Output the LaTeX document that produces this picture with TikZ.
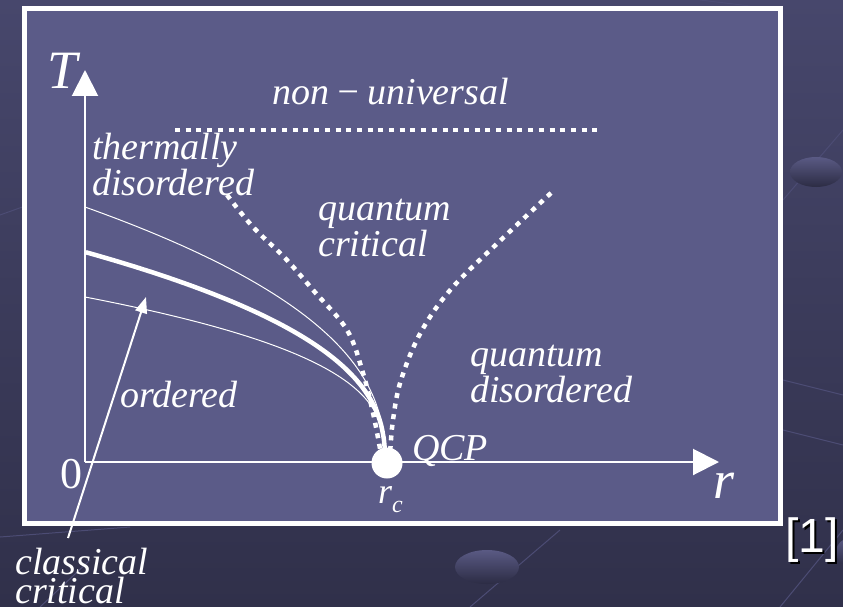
\documentclass[tikz,border=0pt]{standalone}
\usepackage{fontspec}
\setmainfont{Liberation Serif}
\newfontfamily\refsans{Liberation Sans}
\usetikzlibrary{arrows.meta}
\definecolor{bgtop}{HTML}{47476C}
\definecolor{bgbot}{HTML}{30304A}
\definecolor{panel}{HTML}{5B5B88}
\definecolor{decoline}{HTML}{4C4C74}
\definecolor{blobtop}{HTML}{5A5A84}
\definecolor{blobbot}{HTML}{2C2C44}
\begin{document}
\begin{tikzpicture}[x=1pt,y=-1pt,
  lbl/.style={text=white, font=\fontsize{38}{29}\selectfont\itshape, inner sep=0pt, align=left, anchor=base west},
  biglbl/.style={text=white, font=\fontsize{54}{54}\selectfont\itshape, inner sep=0pt, anchor=base west},
  thincurve/.style={white, line width=1pt},
  thickcurve/.style={white, line width=4.5pt},
  dotcurve/.style={white, line width=4.5pt, dash pattern=on 5pt off 5.7pt},
  axisline/.style={white, line width=2pt, -{Triangle[length=26pt,width=26pt]}},
  pointer/.style={white, line width=2pt, -{Triangle[length=16pt,width=12pt]}},
  deco/.style={decoline, line width=1pt},
]
% background slide
\useasboundingbox (0,0) rectangle (843,607);
\shade[top color=bgtop, bottom color=bgbot] (0,0) rectangle (843,607);
\draw[deco] (0,215) -- (70,190);
\draw[deco] (0,537) -- (130,527);
\draw[deco] (40,607) -- (90,560);
\draw[deco] (843,130) -- (783,200);
\draw[deco] (783,380) -- (843,395);
\draw[deco] (783,430) -- (843,445);
\draw[deco] (843,530) -- (780,607);
\draw[deco] (470,607) -- (560,530);
\draw[deco] (700,0) -- (750,6);
\shade[top color=blobtop, bottom color=blobbot] (816,172) ellipse [x radius=26, y radius=15];
\shade[top color=blobtop, bottom color=blobbot] (487,567) ellipse [x radius=32, y radius=17];
\shade[top color=blobtop, bottom color=blobbot] (850,552) ellipse [x radius=14, y radius=14];
% panel
\draw[white, line width=5pt, fill=panel] (24.5,8.5) rectangle (780.5,523.5);

% axes
\coordinate (O) at (85,462);
\coordinate (Ttip) at (85,70);
\coordinate (rtip) at (719,462);
\draw[axisline] (O) -- (Ttip);
\draw[axisline] (O) -- (rtip);

% crossover curves
\draw[thincurve] plot[domain=0.0001:1, samples=120, variable=\t] ({385-300*(\t)^2.38}, {462-255*\t});
\draw[thickcurve] plot[domain=0.0001:1, samples=120, variable=\t] ({385-300*(\t)^2.5}, {462-210*\t});
\draw[thincurve] plot[domain=0.0001:1, samples=120, variable=\t] ({385-300*(\t)^2.857}, {462-165*\t});

% dotted lines
\coordinate (nu1) at (175,130);
\coordinate (nu2) at (597,130);
\draw[dotcurve] (nu1) -- (nu2);
\draw[dotcurve] plot[smooth, tension=0.6] coordinates {(227,195) (253,227) (285,258) (313,290) (347,330) (363,373) (373,413) (379,443) (381,455)};
\draw[dotcurve] plot[smooth, tension=0.6] coordinates {(551,193) (503,238) (452,288) (421,332) (401,380) (393,420) (390,455)};

% quantum critical point
\node[circle, fill=white, minimum size=31pt, inner sep=0pt] (qcp) at (387,463) {};

% labels
\node[biglbl] (Tlab) at (47,89) {T};
\node[biglbl] (rlab) at (713,498) {r};
\node[text=white, font=\fontsize{44}{44}\selectfont, inner sep=0pt, anchor=base west] (zero) at (60,488) {0};
\node[text=white, font=\fontsize{36}{36}\selectfont\itshape, inner sep=0pt, anchor=base west] (rc) at (378,503) {r\raisebox{-9pt}{\fontsize{24}{24}\selectfont c}};
\node[lbl] (qcplab) at (412,460) {QCP};
\node[lbl] (nonuniv) at (272,105) {non\,−\,universal};
\node[lbl] (thermal) at (92,195) {thermally\\disordered};
\node[lbl, font=\fontsize{38}{36}\selectfont\itshape] (qcrit) at (318,256) {quantum\\critical};
\node[lbl, font=\fontsize{38}{30}\selectfont\itshape] (qdis) at (470,402) {quantum\\disordered};
\node[lbl] (ordered) at (120,407) {ordered};
\node[lbl] (ccrit) at (15,603) {classical\\critical};

% pointer to classical critical line
\coordinate (ccstart) at (68,538);
\coordinate (cctip) at (146,297);
\draw[pointer] (ccstart) -- (cctip);

% reference mark with dark shadow
\node[text=white, font=\fontsize{48}{48}\selectfont\refsans, inner sep=0pt, anchor=base west] (ref) at (785,552)
  {\makebox[0pt][l]{\hspace{2pt}\raisebox{-2pt}{\color{black}[1]}}[1]};
\end{tikzpicture}
\end{document}
